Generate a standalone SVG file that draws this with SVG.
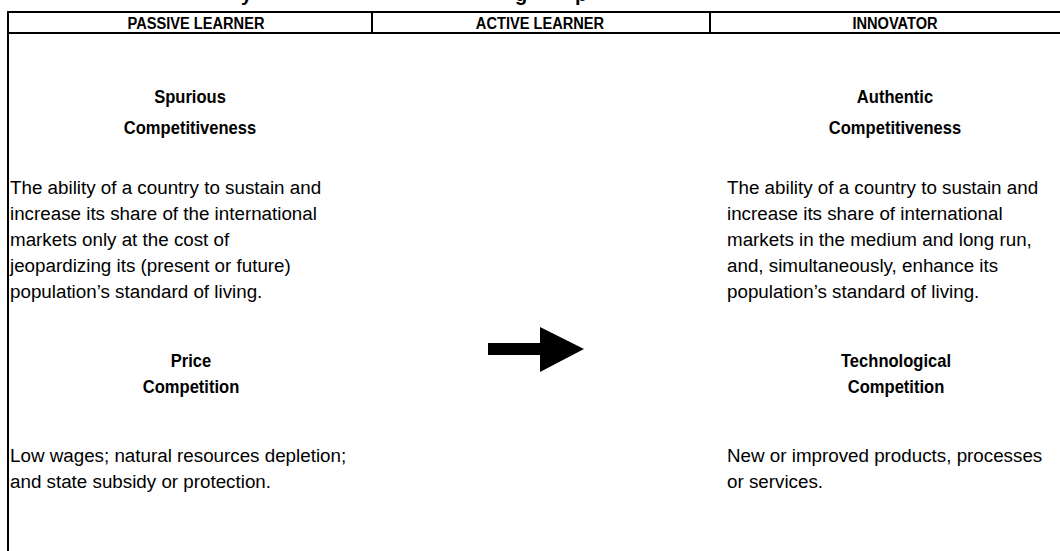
<svg xmlns="http://www.w3.org/2000/svg" width="1060" height="551" viewBox="0 0 1060 551">
  <style>
    .ln { stroke: #000; stroke-width: 2; fill: none; }
    .hd { font-family: "Liberation Sans", Arial, sans-serif; font-weight: bold; font-size: 17px; text-anchor: middle; fill: #000; }
    .ti { font-family: "Liberation Sans", Arial, sans-serif; font-weight: bold; font-size: 18px; text-anchor: middle; fill: #000; }
    .bd { font-family: "Liberation Sans", Arial, sans-serif; font-size: 18.8px; fill: #000; }
    .cut { font-family: "Liberation Sans", Arial, sans-serif; font-weight: bold; font-size: 20px; fill: #000; }
  </style>
  <rect width="1060" height="551" fill="#fff"/>
  <g id="title-fragment">
    <text class="cut" x="241" y="1">y</text>
    <text class="cut" x="515" y="1">g</text>
    <text class="cut" x="575" y="1">p</text>
  </g>
  <g id="table">
    <line class="ln" x1="8" y1="12" x2="1060" y2="12"/>
    <line class="ln" x1="8" y1="33" x2="1060" y2="33"/>
    <line class="ln" x1="8" y1="11" x2="8" y2="551"/>
    <line class="ln" x1="372" y1="12" x2="372" y2="33"/>
    <line class="ln" x1="710" y1="12" x2="710" y2="33"/>
  </g>
  <g id="header-passive"><text class="hd" transform="translate(196,29) scale(0.86,1)">PASSIVE LEARNER</text></g>
  <g id="header-active"><text class="hd" transform="translate(540,29) scale(0.86,1)">ACTIVE LEARNER</text></g>
  <g id="header-innovator"><text class="hd" transform="translate(895,29) scale(0.86,1)">INNOVATOR</text></g>
  <g id="spurious">
    <text class="ti" transform="translate(190,103) scale(0.92,1)">Spurious</text>
    <text class="ti" transform="translate(190,134) scale(0.92,1)">Competitiveness</text>
    <text class="bd" x="10" y="194">The ability of a country to sustain and</text>
    <text class="bd" x="10" y="220">increase its share of the international</text>
    <text class="bd" x="10" y="246">markets only at the cost of</text>
    <text class="bd" x="10" y="272">jeopardizing its (present or future)</text>
    <text class="bd" x="10" y="298">population’s standard of living.</text>
  </g>
  <g id="price">
    <text class="ti" transform="translate(191,367) scale(0.92,1)">Price</text>
    <text class="ti" transform="translate(191,393) scale(0.92,1)">Competition</text>
    <text class="bd" x="10" y="462">Low wages; natural resources depletion;</text>
    <text class="bd" x="10" y="488">and state subsidy or protection.</text>
  </g>
  <g id="authentic">
    <text class="ti" transform="translate(895,103) scale(0.92,1)">Authentic</text>
    <text class="ti" transform="translate(895,134) scale(0.92,1)">Competitiveness</text>
    <text class="bd" x="727" y="194">The ability of a country to sustain and</text>
    <text class="bd" x="727" y="220">increase its share of international</text>
    <text class="bd" x="727" y="246">markets in the medium and long run,</text>
    <text class="bd" x="727" y="272">and, simultaneously, enhance its</text>
    <text class="bd" x="727" y="298">population’s standard of living.</text>
  </g>
  <g id="technological">
    <text class="ti" transform="translate(896,367) scale(0.92,1)">Technological</text>
    <text class="ti" transform="translate(896,393) scale(0.92,1)">Competition</text>
    <text class="bd" x="727" y="462">New or improved products, processes</text>
    <text class="bd" x="727" y="488">or services.</text>
  </g>
  <g id="connectors">
    <polygon points="488,343 540,343 540,327 584,349 540,372 540,355 488,355" fill="#000"/>
  </g>
</svg>
